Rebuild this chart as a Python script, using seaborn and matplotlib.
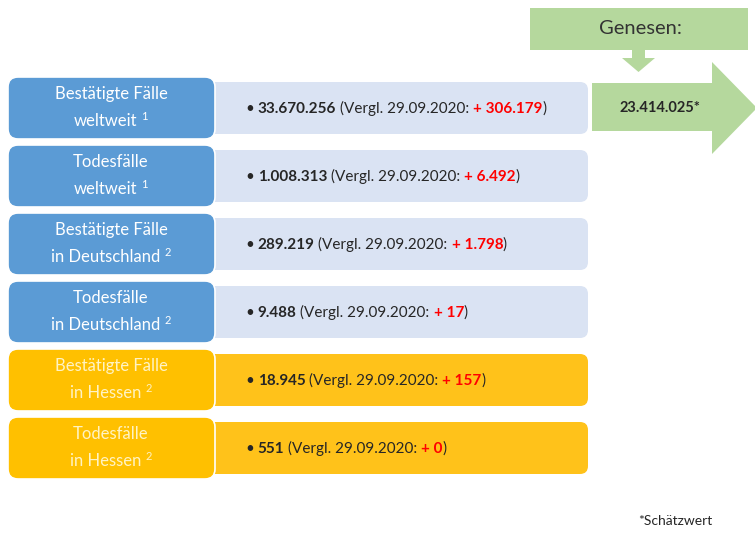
import matplotlib
matplotlib.use("Agg")
import matplotlib.pyplot as plt
import seaborn as sns
from matplotlib.patches import FancyBboxPatch, Polygon

# Daten
kategorien = [
    "Bestätigte Fälle\nweltweit",
    "Todesfälle\nweltweit",
    "Bestätigte Fälle\nin Deutschland",
    "Todesfälle\nin Deutschland",
    "Bestätigte Fälle\nin Hessen",
    "Todesfälle\nin Hessen",
]
quellen = ["1", "1", "2", "2", "2", "2"]
werte = ["33.670.256", "1.008.313", "289.219", "9.488", "18.945", "551"]
zuwachs = ["306.179", "6.492", "1.798", "17", "157", "0"]
regionen = ["welt", "welt", "de", "de", "hessen", "hessen"]
vergleich_datum = "29.09.2020"
genesen_titel = "Genesen:"
genesen_wert = "23.414.025*"
fussnote = "*Schätzwert"

# Farben
farbe_links = {"welt": "#5B9BD5", "de": "#5B9BD5", "hessen": "#FFC000"}
farbe_rechts = {"welt": "#DAE3F3", "de": "#DAE3F3", "hessen": "#FFC21A"}
farbe_text_links = {"welt": "white", "de": "white", "hessen": "#FFF3C4"}
gruen = "#B5D89D"
dunkel = "#262626"
rot = "#FF0000"

sns.set_theme(style="white")
plt.rcParams["font.family"] = ["Lato", "DejaVu Sans"]

fig = plt.figure(figsize=(7.55, 5.42), dpi=100)
ax = fig.add_axes([0, 0, 1, 1])
ax.set_xlim(0, 755)
ax.set_ylim(542, 0)
ax.axis("off")
renderer = fig.canvas.get_renderer()

gr_rechts = 11
gr_links = 12


def breite(t):
    bb = t.get_window_extent(renderer).transformed(ax.transData.inverted())
    return bb.x1 - bb.x0, bb.x1


# Leerzeichenbreite messen
tmp1 = ax.text(0, 0, "x x", fontsize=gr_rechts)
tmp2 = ax.text(0, 0, "xx", fontsize=gr_rechts)
leer = breite(tmp1)[0] - breite(tmp2)[0]
tmp1.remove()
tmp2.remove()

y0, abstand = 108, 68
for i, (kat, q, wert, plus, reg) in enumerate(zip(kategorien, quellen, werte, zuwachs, regionen)):
    yc = y0 + abstand * i
    # rechte Box
    ax.add_patch(FancyBboxPatch((200, yc - 26), 388, 52,
                                boxstyle="round,pad=0,rounding_size=8",
                                fc=farbe_rechts[reg], ec="none", zorder=1))
    # linke Box
    ax.add_patch(FancyBboxPatch((8, yc - 31), 207, 62,
                                boxstyle="round,pad=0,rounding_size=10",
                                fc=farbe_links[reg], ec="white", lw=1.2, zorder=2))
    zeile1, zeile2 = kat.split("\n")
    ax.text(111, yc - 14, zeile1, ha="center", va="center", fontsize=gr_links,
            color=farbe_text_links[reg], zorder=3)
    # zweite Zeile + hochgestellte Quelle
    t2 = ax.text(0, yc + 13, zeile2, ha="left", va="center", fontsize=gr_links,
                 color=farbe_text_links[reg], zorder=3)
    ts = ax.text(0, yc + 8, q, ha="left", va="center", fontsize=8,
                 color=farbe_text_links[reg], zorder=3)
    w2, ws = breite(t2)[0], breite(ts)[0]
    gesamt = w2 + 4 + ws
    t2.set_x(111 - gesamt / 2)
    ts.set_x(111 - gesamt / 2 + w2 + 4)

    teile = [
        ("•", "normal", dunkel, leer),
        (wert, "bold", dunkel, leer),
        (f"(Vergl. {vergleich_datum}:", "normal", dunkel, leer),
        (f"+ {plus}", "bold", rot, -0.5),
        (")", "normal", dunkel, 0),
    ]
    x = 245
    for txt, gew, col, gap in teile:
        t = ax.text(x, yc + 5, txt, ha="left", va="baseline", fontsize=gr_rechts,
                    fontweight=gew, color=col, zorder=3)
        x = breite(t)[1] + gap

# Genesen-Bereich
ax.add_patch(FancyBboxPatch((530, 8), 218, 42, boxstyle="square,pad=0",
                            fc=gruen, ec="none", zorder=1))
ax.text(640, 29, genesen_titel, ha="center", va="center", fontsize=14.5,
        color="#333333", zorder=3)
ax.add_patch(Polygon([(632, 50), (645, 50), (645, 58), (655, 58), (638.5, 72),
                      (622, 58), (632, 58)], closed=True, fc=gruen, ec="none"))
ax.add_patch(Polygon([(592, 83), (712, 83), (712, 62), (757, 108), (712, 154),
                      (712, 131), (592, 131)], closed=True, fc=gruen, ec="none"))
ax.text(660, 108, genesen_wert, ha="center", va="center", fontsize=10.5,
        fontweight="bold", color=dunkel, zorder=3)

ax.text(675, 521, fussnote, ha="center", va="center", fontsize=10, color=dunkel)

fig.savefig("out.png", dpi=100)
